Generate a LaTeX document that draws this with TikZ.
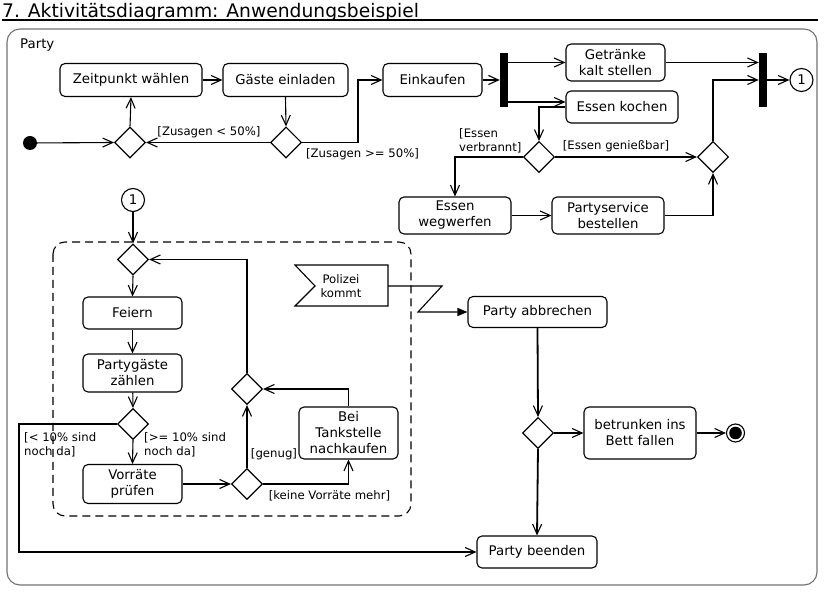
\documentclass[tikz,border=0pt]{standalone}
\usepackage{fontspec}
\setmainfont{DejaVu Sans}
\usetikzlibrary{arrows.meta,shapes.geometric}
\newcommand\actf{\fontsize{13.3}{16}\selectfont}
\newcommand\lblf{\fontsize{11.7}{13.5}\selectfont}
\newcommand\titf{\fontsize{18.7}{22}\selectfont}
\begin{document}
\begin{tikzpicture}[x=1pt,y=-1pt,
  act/.style={draw, rounded corners=5pt, line width=1.1pt, align=center, inner sep=0pt, font=\actf},
  dec/.style={draw, diamond, minimum width=31pt, minimum height=31pt, inner sep=0pt, line width=1.1pt},
  forkbar/.style={fill=black, rectangle, minimum width=8pt, minimum height=54pt, inner sep=0pt},
  conn/.style={draw, circle, minimum size=23pt, inner sep=0pt, line width=1.1pt, font=\actf},
  lbl/.style={font=\lblf, inner sep=0pt, align=left},
  ua/.style={line width=1.1pt, -{Straight Barb[length=10pt,width=9pt,line width=1.1pt]}},
  thk/.style={line width=1.8pt},
  ]
\fill[white] (0,0) rectangle (828,593);
\useasboundingbox (0,0) rectangle (828,593);

% title and frame
\node[font=\titf, anchor=base west, inner sep=0pt] (title) at (2,18) {7. Aktivitätsdiagramm: Anwendungsbeispiel};
\draw[line width=1.1pt] (2,20) -- (818,20);
\draw[line width=1.1pt, black!55, rounded corners=13pt] (7,29) rectangle (817,585);
\node[font=\actf, anchor=west, inner sep=0pt] (party) at (20,45) {Party};

% top row
\node[act, minimum width=142pt, minimum height=33pt] (zeit) at (131,80) {Zeitpunkt wählen};
\node[act, minimum width=125pt, minimum height=33pt] (gaeste) at (285.5,80) {Gäste einladen};
\node[act, minimum width=99pt, minimum height=33pt] (eink) at (432.5,80) {Einkaufen};
\node[circle, fill=black, minimum size=14pt, inner sep=0pt] (init) at (30,143) {};
\node[dec] (dec1) at (130,142.5) {};
\node[dec] (dec2) at (286,142.5) {};
\node[forkbar] (bar1) at (504,80) {};
\node[act, minimum width=99pt, minimum height=37pt] (getr) at (615.5,62.5) {Getränke\\kalt stellen};
\node[act, minimum width=112pt, minimum height=32pt] (ek) at (622,107) {Essen kochen};
\node[dec] (dec3) at (539,157) {};
\node[dec] (dec4) at (713,157) {};
\node[act, minimum width=112pt, minimum height=37pt] (ew) at (455,215.5) {Essen\\wegwerfen};
\node[act, minimum width=112pt, minimum height=37pt] (ps) at (608,215.5) {Partyservice\\bestellen};
\node[forkbar] (bar2) at (763,80) {};
\node[conn] (c1) at (801.5,80) {1};

% top edges
\draw[ua] (init) -- (dec1.west);
\draw[ua] (dec1.north) -- (zeit.south);
\draw[ua] (zeit) -- (gaeste);
\draw[ua] (gaeste.south) -- (dec2.north);
\draw[ua] (dec2.west) -- (dec1.east);
\node[lbl] (lz1) at (209,132) {[Zusagen < 50\%]};
\draw[ua] (dec2.east) -- (358,142.5) |- (eink.west);
\node[lbl] (lz2) at (362.5,154) {[Zusagen >= 50\%]};
\draw[ua] (eink) -- (bar1);
\draw[ua] (bar1.east |- getr.west) -- (getr.west);
\draw[ua, thk] (bar1.east |- 0,102) -- (ek.west |- 0,102);
\draw[ua] (ek.west) -| (dec3.north);
\draw[ua] (dec3.east) -- (dec4.west);
\node[lbl] (le1) at (616,146) {[Essen genießbar]};
\draw[ua] (dec3.west) -| (ew.north);
\node[lbl, anchor=west] (le2) at (459,141) {[Essen\\verbrannt]};
\draw[ua] (ew) -- (ps);
\draw[ua] (ps.east) -| (dec4.south);
\draw[ua] (dec4.north) |- (bar2.west);
\draw[ua] (getr.east) -- (bar2.west |- getr.east);
\draw[ua] (bar2.east) -- (c1.west);

% bottom part
\node[conn] (c2) at (133,200) {1};
\draw[line width=1.1pt, dash pattern=on 8pt off 5pt, rounded corners=12pt] (53,242) rectangle (411,516);
\node[dec] (decA) at (133,259.5) {};
\node[act, minimum width=99pt, minimum height=32pt] (feiern) at (132.5,313) {Feiern};
\node[act, minimum width=99pt, minimum height=38pt] (pz) at (132.5,373) {Partygäste\\zählen};
\node[dec] (decB) at (133,424) {};
\node[act, minimum width=99pt, minimum height=39pt] (vor) at (132.5,484) {Vorräte\\prüfen};
\node[dec] (decC) at (247,484) {};
\node[dec] (decD) at (247,389) {};
\node[act, minimum width=99pt, minimum height=52pt] (tank) at (348.5,433) {Bei\\Tankstelle\\nachkaufen};

\draw[ua] (c2.south) -- (decA.north);
\draw[ua] (decA.south) -- (feiern.north);
\draw[ua] (feiern) -- (pz);
\draw[ua] (pz) -- (decB.north);
\draw[ua] (decB.south) -- (vor.north);
\node[lbl, anchor=west] (lb1) at (24,445) {[< 10\% sind\\noch da]};
\node[lbl, anchor=west] (lb2) at (144,445) {[>= 10\% sind\\noch da]};
\draw[ua, thk] (vor.east) -- (decC.west);
\draw[ua] (decC.north) -- (decD.south);
\node[lbl] (lg) at (274,454) {[genug]};
\draw[ua] (decC.east) -| (tank.south);
\node[lbl] (lk) at (329.5,496) {[keine Vorräte mehr]};
\draw[ua] (tank.north) |- (decD.east);
\draw[ua] (decD.north) |- (decA.east);

% Polizei kommt
\draw[line width=1.1pt] (295,265) -- (388,265) -- (388,306) -- (295,306) -- (315,286) -- cycle;
\node[font=\lblf, align=center, inner sep=0pt] (pol) at (341,286) {Polizei\\kommt};
\coordinate (polr) at (388,286);
\coordinate (z1) at (442,286);
\coordinate (z2) at (418,312);

\node[act, minimum width=139pt, minimum height=31pt] (pa) at (537.5,312) {Party abbrechen};
\node[dec] (decE) at (538,433) {};
\node[act, minimum width=112pt, minimum height=52pt] (bt) at (640,433) {betrunken ins\\Bett fallen};
\node[circle, draw, line width=1.1pt, minimum size=18pt, inner sep=0pt] (fin) at (735.5,433) {};
\fill (fin.center) circle (6.3pt);
\node[act, minimum width=120pt, minimum height=32pt] (pb) at (537,552) {Party beenden};

\draw[line width=1.1pt, -{Triangle[length=10pt,width=8pt]}] (polr) -- (z1) -- (z2) -- (pa.west);
\draw[ua, thk] (pa.south) -- (decE.north);
\draw[ua] (decE.east) -- (bt.west);
\draw[ua] (bt.east) -- (fin.west);
\draw[ua, thk] (decE.south) -- (pb.north);
\draw[ua] (decB.west) -- (19,424) -- (19,552) -- (pb.west);
\end{tikzpicture}
\end{document}
